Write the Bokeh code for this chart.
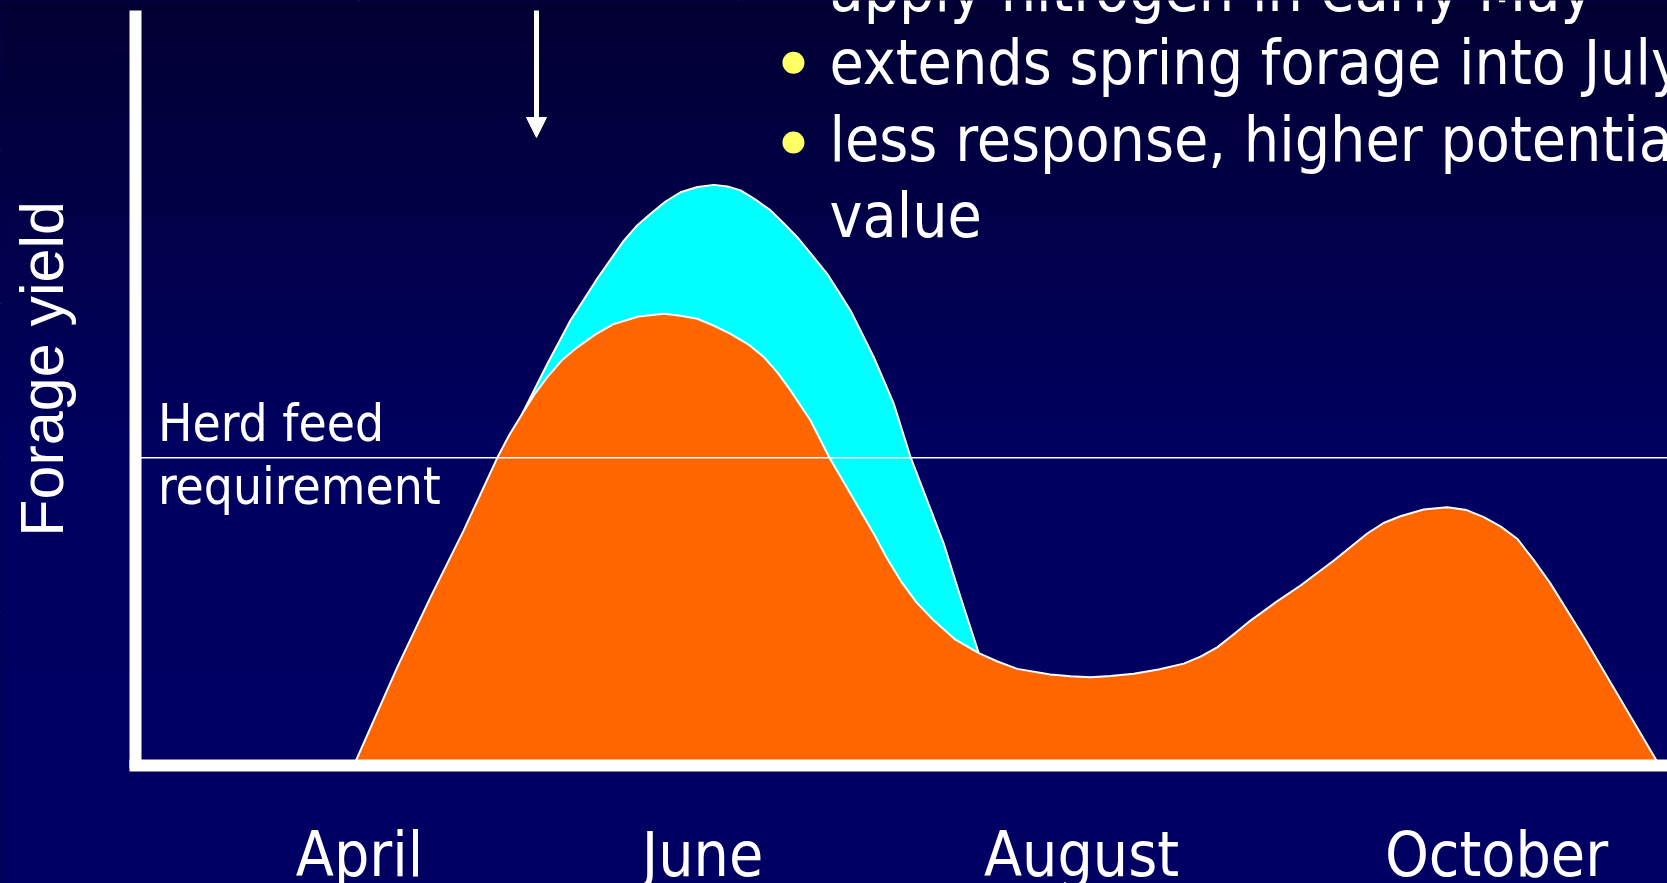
import numpy as np
from bokeh.plotting import figure
from bokeh.models import Range1d, LinearAxis, FixedTicker, Arrow, NormalHead
from bokeh.core.properties import value
from bokeh.embed import file_html
from bokeh.resources import INLINE

# Seasonal forage growth without nitrogen (x = month number, y = yield index,
# herd feed requirement = 100)
base_month = [3.970, 4.199, 4.375, 4.550, 4.727, 4.792, 4.859, 4.923, 4.991, 5.066,
              5.149, 5.245, 5.342, 5.472, 5.606, 5.694, 5.782, 5.868, 5.958, 6.053,
              6.134, 6.206, 6.274, 6.380, 6.480, 6.591, 6.714, 6.781, 6.855, 6.939,
              7.031, 7.145, 7.268, 7.367, 7.471, 7.646, 7.752, 7.858, 7.963, 8.086,
              8.216, 8.350, 8.438, 8.526, 8.612, 8.702, 8.834, 8.966, 9.142, 9.318,
              9.404, 9.493, 9.615, 9.740, 9.842, 9.933, 10.021, 10.109, 10.195, 10.285,
              10.461, 10.637, 10.860]
base_yield = [0.0, 31.9, 54.7, 76.4, 100.0, 107.6, 114.3, 120.6, 126.2, 131.6,
              135.9, 140.1, 143.5, 145.9, 146.8, 146.2, 145.2, 143.0, 140.3, 136.8,
              132.7, 127.7, 121.9, 112.1, 100.0, 88.3, 75.3, 67.6, 60.1, 53.0,
              47.1, 40.9, 36.5, 33.8, 31.4, 29.6, 29.0, 28.7, 29.1, 29.8,
              31.2, 33.1, 35.4, 38.4, 42.6, 47.1, 53.0, 58.5, 66.6, 75.4,
              78.8, 81.0, 83.2, 83.9, 83.0, 80.7, 77.7, 73.7, 66.9, 59.1,
              41.7, 23.3, 0.0]

# Growth with nitrogen applied in early May
n_month = [4.859, 4.991, 5.113, 5.254, 5.395, 5.462, 5.536, 5.615, 5.694, 5.784,
           5.870, 5.942, 6.011, 6.090, 6.169, 6.237, 6.310, 6.385, 6.468, 6.528,
           6.591, 6.714, 6.820, 6.908, 6.996, 7.083, 7.172, 7.268]
n_yield = [114.3, 130.5, 144.6, 158.2, 170.6, 175.3, 179.3, 183.3, 186.3, 188.0,
           188.7, 188.2, 186.9, 183.9, 180.4, 176.3, 171.7, 166.1, 159.8, 154.0,
           147.9, 132.7, 117.5, 100.2, 86.1, 72.1, 54.7, 36.5]

herd_requirement = 100
nitrogen_month = 4.934

month_labels = ["April", "June", "August", "October"]
month_ticks = [4.0, 5.81, 7.81, 10.0]

bullet_lines = ["apply nitrogen in early May",
                "extends spring forage into July",
                "less response, higher potential",
                "value"]

X0, X1 = 2.1055, 10.9024
Y0, Y1 = -38.35, 248.62
AXIS_X = 2.818
AXIS_TOP = 243.4

TEXT_FONT = "DejaVu Sans Condensed, DejaVu Sans"

p = figure(width=1667, height=883, output_backend="svg", toolbar_location=None,
           x_range=Range1d(X0, X1), y_range=Range1d(Y0, Y1),
           x_axis_location=None, y_axis_location=None, min_border=0)
p.outline_line_color = None
p.background_fill_color = "#000066"
p.border_fill_color = "#000066"

# slide background: dark navy at the top fading to navy; the image overhangs
# the visible range so its edges stay off-canvas
pad_x, pad_y = 0.2, 8.0
rows = 900
span_top = Y1 + pad_y
span_bot = Y0 - pad_y
row_y = np.linspace(span_bot, span_top, rows)
depth_px = (Y1 - row_y) / (Y1 - Y0) * 883
r = np.interp(depth_px, [0, 450, 883], [3, 0, 0])
b = np.interp(depth_px, [0, 450, 883], [50, 96, 100])
img = np.zeros((rows, 4), dtype=np.uint32)
view = img.view(dtype=np.uint8).reshape((rows, 4, 4))
view[:, :, 0] = r.astype(np.uint8)[:, None]
view[:, :, 1] = 0
view[:, :, 2] = b.astype(np.uint8)[:, None]
view[:, :, 3] = 255
p.image_rgba(image=[img], x=X0 - pad_x, y=span_bot,
             dw=X1 - X0 + 2 * pad_x, dh=span_top - span_bot)

# extra yield from nitrogen (cyan) sits behind the base growth (orange)
p.varea(x=n_month, y1=0, y2=n_yield, fill_color="#00FFFF")
p.line(n_month, n_yield, line_color="white", line_width=2, line_join="round")
p.varea(x=base_month, y1=0, y2=base_yield, fill_color="#FF6600")
p.line(base_month, base_yield, line_color="white", line_width=2, line_join="round")

# herd feed requirement
p.line([AXIS_X, X1], [herd_requirement, herd_requirement], line_color="white", line_width=1.5)

# axes
axis_style = dict(ticker=FixedTicker(ticks=[]), axis_line_color="white", axis_line_width=12,
                  axis_line_cap="square", major_tick_out=0, major_tick_in=0,
                  minor_tick_out=0, minor_tick_in=0, major_label_standoff=0,
                  major_label_text_font_size="0px")
xaxis = LinearAxis(fixed_location=0, bounds=(AXIS_X, X1 + 1), **axis_style)
yaxis = LinearAxis(fixed_location=AXIS_X, bounds=(1.0, AXIS_TOP), **axis_style)
p.add_layout(xaxis, "below")
p.add_layout(yaxis, "left")

# month labels
p.text(x=month_ticks, y=[-28.9] * len(month_ticks), text=month_labels,
       text_font=value(TEXT_FONT), text_font_size="62px", text_color="white",
       text_align="center", text_baseline="alphabetic")

# y axis title
p.text(x=[2.324], y=[128.9], text=["Forage yield"], angle=np.pi / 2,
       text_font=value("Liberation Sans"), text_font_size="61px", text_color="white",
       text_align="center", text_baseline="alphabetic")

# herd requirement label
p.text(x=[2.936, 2.936], y=[111.2, 90.7], text=["Herd feed", "requirement"],
       text_font=value(TEXT_FONT), text_font_size="51px", text_color="white",
       text_align="left", text_baseline="alphabetic")

# notes on nitrogen timing
p.text(x=[6.48] * 4, y=[252.2, 228.6, 203.4, 178.6], text=bullet_lines,
       text_font=value(TEXT_FONT), text_font_size="62px", text_color="white",
       text_align="left", text_baseline="alphabetic")
p.scatter(x=[6.29, 6.29], y=[228.4, 202.5], size=22, marker="circle",
          fill_color="#FFFF66", line_color=None)

# nitrogen application arrow
p.add_layout(Arrow(end=NormalHead(size=20, fill_color="white", line_color="white", line_width=1),
                   x_start=nitrogen_month, y_start=245.4, x_end=nitrogen_month, y_end=204.1,
                   line_color="white", line_width=5))

html = file_html(p, INLINE)
html = html.replace("<head>", "<head><style>html, body { margin: 0; background: #000033; }</style>", 1)
open("out.html", "w").write(html)
